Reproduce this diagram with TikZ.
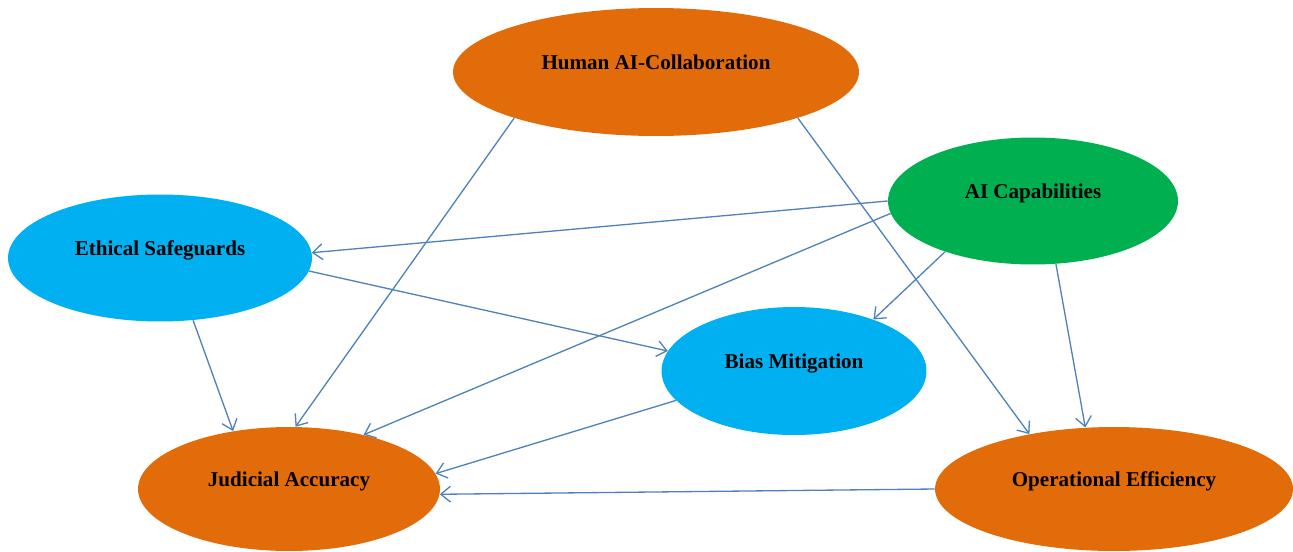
\documentclass[tikz,border=0pt]{standalone}
\usepackage{fontspec}
\setmainfont{Liberation Serif}
\usetikzlibrary{shapes.geometric, arrows.meta}

\definecolor{nodeorange}{RGB}{227,108,10}
\definecolor{nodegreen}{RGB}{0,176,80}
\definecolor{nodeblue}{RGB}{0,176,240}
\definecolor{linkblue}{RGB}{79,129,189}

\begin{document}
\begin{tikzpicture}[
  x=0.02cm, y=-0.02cm,
  font=\fontsize{12}{14}\selectfont\bfseries,
  % Estilos de nodos
  oval/.style={ellipse, inner sep=0pt, text depth=0.38cm},
  outcome/.style={oval, fill=nodeorange},
  driver/.style={oval, fill=nodegreen},
  safeguard/.style={oval, fill=nodeblue},
  % Estilo de flechas
  link/.style={draw=linkblue, line width=0.75pt, -{Straight Barb[length=5.5pt, width=9pt]}}
]
  \useasboundingbox (0,0) rectangle (1293,551);

  % ==========================================
  % NODES
  % ==========================================
  \node[outcome, minimum width=8.12cm, minimum height=2.56cm] (hac) at (656,72) {Human AI-Collaboration};
  \node[driver, minimum width=5.8cm, minimum height=2.54cm] (aic) at (1033,201) {AI Capabilities};
  \node[safeguard, minimum width=6.08cm, minimum height=2.54cm] (eth) at (160,258) {Ethical Safeguards};
  \node[safeguard, minimum width=5.3cm, minimum height=2.56cm] (bias) at (794,371) {Bias Mitigation};
  \node[outcome, minimum width=6.04cm, minimum height=2.48cm] (jud) at (289,489) {Judicial Accuracy};
  \node[outcome, minimum width=7.16cm, minimum height=2.48cm] (ope) at (1114,489) {Operational Efficiency};

  % ==========================================
  % CONNECTIONS
  % ==========================================
  \draw[link] (hac.198) -- (jud.84);
  \draw[link] (hac.342) -- (ope.147);

  \draw[link] (aic.180.6) -- (eth.2);
  \draw[link] (aic.185.7) -- (jud.36.5);
  \draw[link] (aic.210.9) -- (bias.33.3);
  \draw[link] (aic.290.7) -- (ope.115.3);

  \draw[link] (eth.355.3) -- (bias.171.5);
  \draw[link] (eth.298) -- (jud.134.5);

  \draw[link] (bias.194.8) -- (jud.6.3);
  \draw[link] (ope.180) -- (jud.358.8);

\end{tikzpicture}
\end{document}
